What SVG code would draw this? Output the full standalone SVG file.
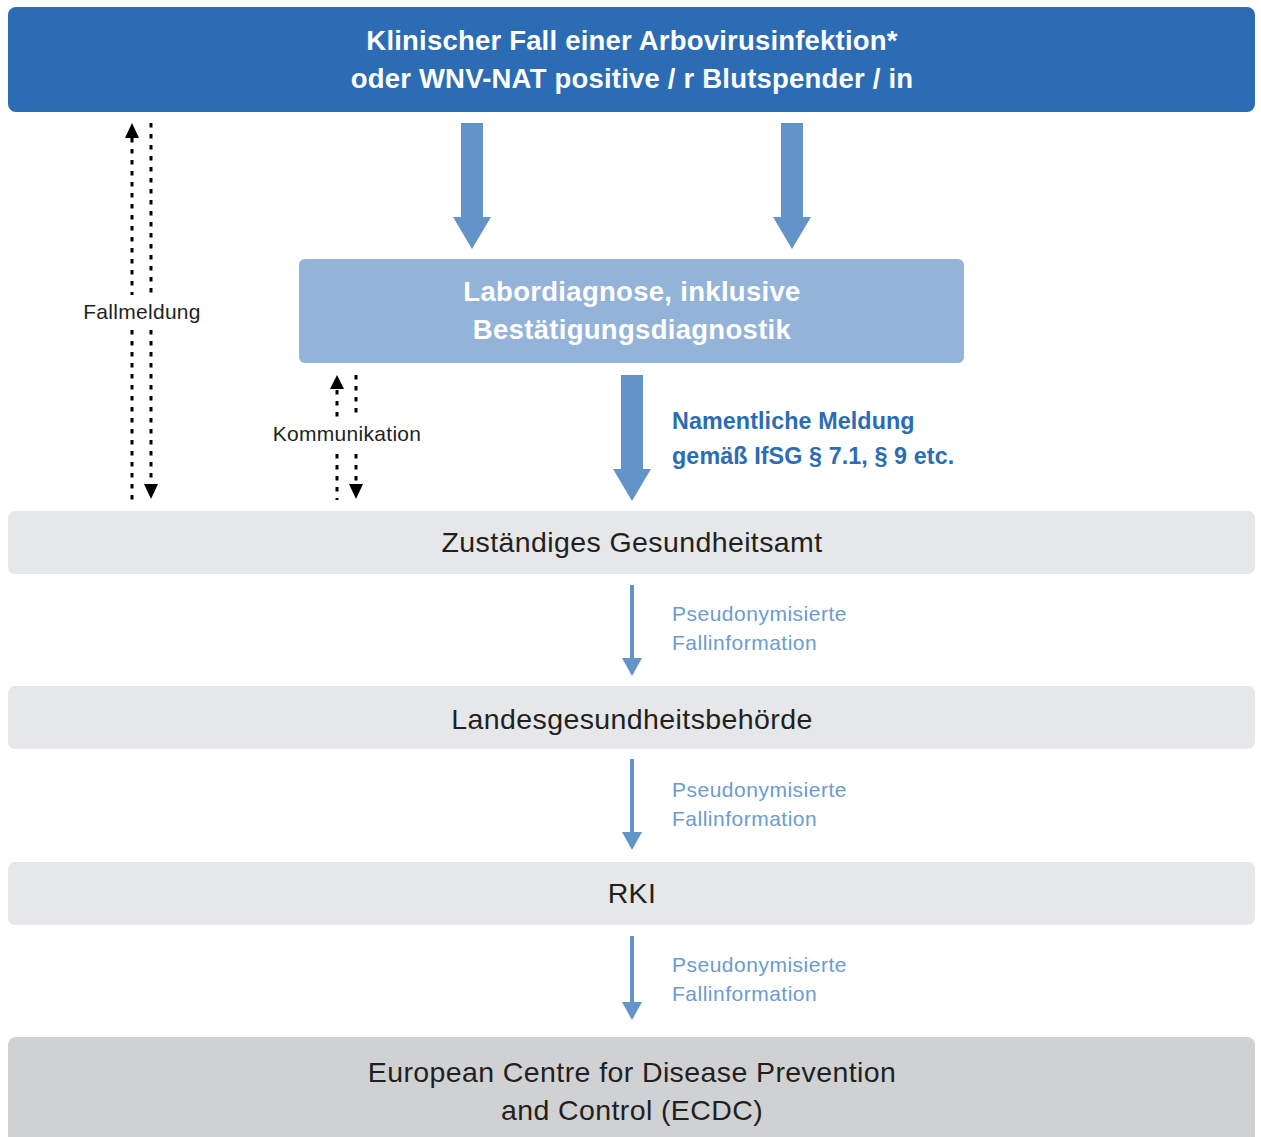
<svg xmlns="http://www.w3.org/2000/svg" width="1261" height="1137" viewBox="0 0 1261 1137">
<defs>
<style>
text{font-family:"Liberation Sans",Arial,sans-serif}
.title{fill:#fff;font-size:27.5px;font-weight:bold;text-anchor:middle;letter-spacing:0.2px}
.lab{fill:#fff;font-size:27.5px;font-weight:bold;text-anchor:middle;letter-spacing:0.3px}
.node{fill:#231f20;font-size:28.5px;text-anchor:middle;letter-spacing:0.4px}
.nm{fill:#2b6cb4;font-size:23.3px;font-weight:bold;letter-spacing:0.1px}
.ps{fill:#6b9bd1;font-size:21px;letter-spacing:0.5px}
.lbl{fill:#231f20;font-size:21px;text-anchor:middle;letter-spacing:0.3px}
.big{fill:#6294c8}
.thin{stroke:#6294c8;stroke-width:4}
.dot{stroke:#000;stroke-width:3;stroke-dasharray:4.5 6.5;fill:none}
</style>
</defs>
<rect width="1261" height="1137" fill="#fff"/>
<g id="n-klinisch">
<rect x="8" y="7" width="1247" height="105" rx="8" fill="#2b6cb4"/>
<text class="title" x="632" y="50">Klinischer Fall einer Arbovirusinfektion*</text>
<text class="title" x="632" y="88">oder WNV-NAT positive / r Blutspender / in</text>
</g>
<g id="n-labor">
<rect x="299" y="259" width="665" height="104" rx="6" fill="#93b3d9"/>
<text class="lab" x="632" y="301">Labordiagnose, inklusive</text>
<text class="lab" x="632" y="339">Bestätigungsdiagnostik</text>
</g>
<g id="n-gesundheitsamt">
<rect x="8" y="511" width="1247" height="63" rx="7" fill="#e6e7e8"/>
<text class="node" x="632" y="552">Zuständiges Gesundheitsamt</text>
</g>
<g id="n-landes">
<rect x="8" y="686" width="1247" height="63" rx="7" fill="#e6e7e8"/>
<text class="node" x="632" y="729">Landesgesundheitsbehörde</text>
</g>
<g id="n-rki">
<rect x="8" y="862" width="1247" height="63" rx="7" fill="#e6e7e8"/>
<text class="node" x="632" y="903">RKI</text>
</g>
<g id="n-ecdc">
<rect x="8" y="1037" width="1247" height="120" rx="8" fill="#d0d1d3"/>
<text class="node" x="632" y="1082">European Centre for Disease Prevention</text>
<text class="node" x="632" y="1120">and Control (ECDC)</text>
</g>
<g id="connectors">
<polygon class="big" points="461,123 483,123 483,217 491,217 472,249 453,217 461,217"/>
<polygon class="big" points="781,123 803,123 803,217 811,217 792,249 773,217 781,217"/>
<polygon class="big" points="621,375 643,375 643,469 651,469 632,501 613,469 621,469"/>
<line class="thin" x1="632" y1="585" x2="632" y2="660"/>
<polygon class="big" points="622,658 642,658 632,676"/>
<line class="thin" x1="632" y1="759" x2="632" y2="834"/>
<polygon class="big" points="622,832 642,832 632,850"/>
<line class="thin" x1="632" y1="936" x2="632" y2="1004"/>
<polygon class="big" points="622,1002 642,1002 632,1020"/>
<text class="nm" x="672" y="429">Namentliche Meldung</text>
<text class="nm" x="672" y="464">gemäß IfSG § 7.1, § 9 etc.</text>
<text class="ps" x="672" y="621">Pseudonymisierte</text>
<text class="ps" x="672" y="650">Fallinformation</text>
<text class="ps" x="672" y="797">Pseudonymisierte</text>
<text class="ps" x="672" y="826">Fallinformation</text>
<text class="ps" x="672" y="972">Pseudonymisierte</text>
<text class="ps" x="672" y="1001">Fallinformation</text>
<line class="dot" x1="132" y1="138" x2="132" y2="295"/>
<line class="dot" x1="132" y1="330" x2="132" y2="500"/>
<polygon points="125,138 139,138 132,123" fill="#000"/>
<line class="dot" x1="151" y1="123" x2="151" y2="295"/>
<line class="dot" x1="151" y1="330" x2="151" y2="484"/>
<polygon points="144,484 158,484 151,499" fill="#000"/>
<text class="lbl" x="142" y="319">Fallmeldung</text>
<line class="dot" x1="337" y1="390" x2="337" y2="418"/>
<line class="dot" x1="337" y1="454" x2="337" y2="500"/>
<polygon points="330,389 344,389 337,375" fill="#000"/>
<line class="dot" x1="356" y1="375" x2="356" y2="418"/>
<line class="dot" x1="356" y1="454" x2="356" y2="484"/>
<polygon points="349,484 363,484 356,499" fill="#000"/>
<text class="lbl" x="347" y="441">Kommunikation</text>
</g>
</svg>
